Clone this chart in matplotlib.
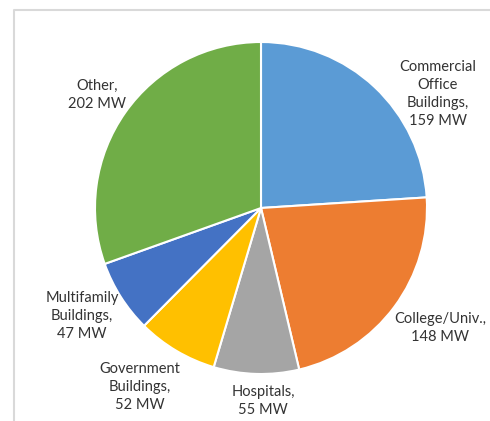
import numpy as np
import matplotlib
matplotlib.use('Agg')
import matplotlib.pyplot as plt

plt.rcParams['font.family'] = ['Lato', 'DejaVu Sans']

# data (MW)
sectors = ['Commercial\nOffice\nBuildings,', 'College/Univ.,', 'Hospitals,',
           'Government\nBuildings,', 'Multifamily\nBuildings,', 'Other,']
values = [159, 148, 55, 52, 47, 202]
colors = ['#5B9BD5', '#ED7D31', '#A5A5A5', '#FFC000', '#4472C4', '#70AD47']

W, H = 490, 421
fig = plt.figure(figsize=(W / 100, H / 100), dpi=100)
ax = fig.add_axes([0, 0, 1, 1])
ax.set_xlim(0, W)
ax.set_ylim(0, H)
ax.axis('off')

cx, cy, r = 261, H - 208, 166
ax.pie(values, colors=colors, startangle=90, counterclock=False,
       center=(cx, cy), radius=r,
       wedgeprops=dict(edgecolor='white', linewidth=1.5))
ax.set_xlim(0, W)
ax.set_ylim(0, H)
ax.set_aspect('equal')

# label positions (pixels from top-left)
label_pos = [(438, 94), (440, 328), (263, 401), (140, 387), (82, 316), (97, 95)]
for name, v, (x, y) in zip(sectors, values, label_pos):
    ax.text(x, H - y, f'{name}\n{v} MW', ha='center', va='center',
            fontsize=10.5, color='#333333', linespacing=1.35)

# light chart frame
ax.plot([13.5, 13.5, W], [0, H - 10, H - 10], color='#d9d9d9', lw=1.5,
        clip_on=False)

fig.savefig('out.png', dpi=100)
